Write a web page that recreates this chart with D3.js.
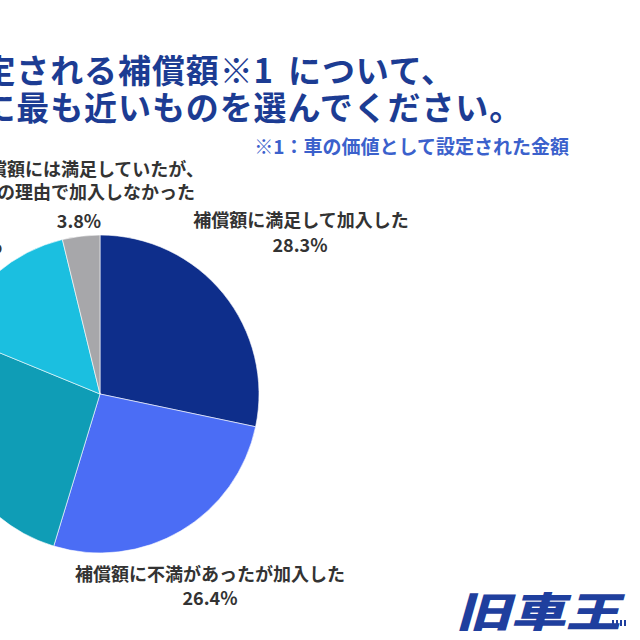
<!DOCTYPE html>
<html>
<head>
<meta charset="utf-8">
<script src="https://cdn.jsdelivr.net/npm/d3@7"></script>
<style>
  html, body { margin: 0; padding: 0; background: #ffffff; overflow: hidden; }
  svg { display: block; font-family: "Noto Sans CJK JP", "Noto Sans", sans-serif; }
</style>
</head>
<body>
<svg id="chart" width="640" height="640"></svg>
<script>
// ---- data ----
const titleLine1 = ["車両保険で設定される補償額※1", "について、"];
const titleLine2 = "あなたの考えに最も近いものを選んでください。";
const footnote = "※1：車の価値として設定された金額";
const categories = [
  "補償額に満足して加入した",
  "補償額に不満があったが加入した",
  "補償額に不満があったので加入しなかった",
  "そもそも加入を検討しなかった",
  "補償額には満足していたが、ほかの理由で加入しなかった"
];
const values = [28.3, 26.4, 26.5, 15.0, 3.8];
const colors = ["#0e2e8b", "#4b6df5", "#0f9db6", "#1bbfe0", "#a7a7aa"];
const brand = "旧車王";

// ---- layout ----
const svg = d3.select("#chart");
svg.append("rect").attr("width", 640).attr("height", 640).attr("fill", "#ffffff");

const cx = 100, cy = 394, R = 159;

// title (left-aligned lines, starting off the left edge)
const title = svg.append("g").attr("fill", "#1c3c93").attr("font-weight", 700)
  .attr("font-size", 33).attr("letter-spacing", 0.9);
const t1 = title.append("text").attr("x", -221).attr("y", 83);
t1.append("tspan").text(titleLine1[0]);
t1.append("tspan").attr("dx", 14).text(titleLine1[1]);
title.append("text").attr("x", -221).attr("y", 120).text(titleLine2);

svg.append("text").attr("x", 569).attr("y", 154).attr("text-anchor", "end")
  .attr("font-size", 19).attr("font-weight", 700).attr("fill", "#3b61cc").text(footnote);

// pie
const pie = d3.pie().sort(null).value(d => d.v).startAngle(0).endAngle(2 * Math.PI);
const arc = d3.arc().innerRadius(0).outerRadius(R);
const data = categories.map((c, i) => ({ c, v: values[i], col: colors[i] }));
const arcs = pie(data);

const g = svg.append("g").attr("transform", `translate(${cx},${cy})`);
g.selectAll("path").data(arcs).join("path")
  .attr("d", arc).attr("fill", d => d.data.col)
  .attr("stroke", "#ffffff").attr("stroke-width", 0.6);

// labels (layout positions per slice, in page pixels)
const fmt = d3.format(".1f");
const labelLayout = [
  { lines: [[301, 227, "middle"]], pct: [300, 252, "middle"] },
  { lines: [[210, 581, "middle"]], pct: [210, 605, "middle"] },
  { lines: [[-20, 430, "end"]], pct: [-20, 454, "end"] },
  { lines: [[-8, 229, "end"]], pct: [2, 253, "end"] },
  { lines: [[204, 176, "end"], [195, 199, "end"]], pct: [79, 228, "middle"] }
];
const labels = svg.append("g").attr("fill", "#333333").attr("font-weight", 700).attr("font-size", 18);
arcs.forEach((a, i) => {
  const L = labelLayout[i];
  const txt = a.data.c;
  const parts = L.lines.length === 2
    ? [txt.slice(0, txt.indexOf("、") + 1), txt.slice(txt.indexOf("、") + 1)]
    : [txt];
  parts.forEach((p, k) => {
    const [x, y, anc] = L.lines[k];
    labels.append("text").attr("x", x).attr("y", y).attr("text-anchor", anc).text(p);
  });
  labels.append("text").attr("x", L.pct[0]).attr("y", L.pct[1])
    .attr("text-anchor", L.pct[2]).text(fmt(a.data.v) + "%");
});

// brand logo
const logo = svg.append("g").attr("transform", "translate(456,627)");
logo.append("text").attr("x", 0).attr("y", 0)
  .attr("transform", "scale(1.34,1) skewX(-12)")
  .attr("font-size", 41).attr("font-weight", 900).attr("fill", "#1f3f9e").text(brand);
[0, 1, 2, 3].forEach(k => {
  logo.append("rect").attr("x", 156 + k * 4).attr("y", -7).attr("width", 2).attr("height", 6).attr("fill", "#1f3f9e");
});
</script>
</body>
</html>
